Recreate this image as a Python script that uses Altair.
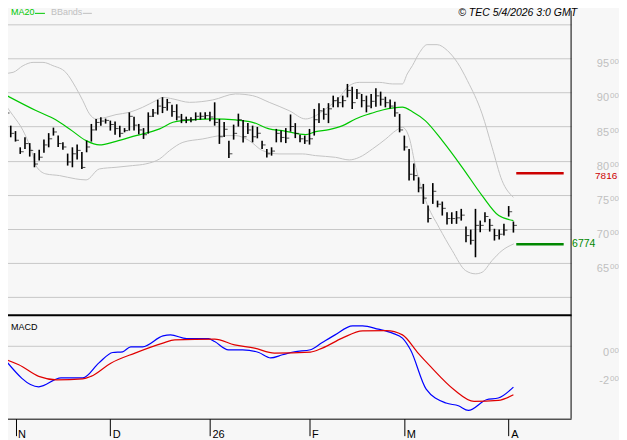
import altair as alt
import pandas as pd

FONT = "Liberation Sans"

# ---------------- daily bars (index 0 = 30 Oct 2025) ----------------
highs = [8782, 8513, 8433, 8195, 8342, 8257, 8110, 8161, 8308, 8403,
         8484, 8367, 8268, 8103, 8195, 8235, 8125, 8293, 8538, 8611,
         8635, 8616, 8587, 8572, 8513, 8477, 8708, 8645, 8538, 8477,
         8708, 8758, 8894, 8931, 8905, 8821, 8826, 8685, 8645, 8635,
         8708, 8708, 8708, 8718, 8855, 8611, 8565, 8293, 8528, 8689,
         8594, 8550, 8513, 8494, 8293, 8172, 8195, 8465, 8440, 8477,
         8677, 8550, 8381, 8367, 8465, 8758, 8843, 8770, 8843, 8953,
         8928, 8953, 9125, 9085, 9051, 8978, 8953, 8978, 9063, 9012,
         8937, 8895, 8865, 8685, 8367, 8172, 7956, 7755, 7658, 7340,
         7670, 7413, 7399, 7242, 7242, 7260, 7292, 7032, 6988, 7292,
         7120, 7242, 7145, 7000, 6991, 7072, 7333, 7106]
lows = [8635, 8342, 8279, 8098, 8172, 8059, 7902, 8000, 8117, 8195,
        8367, 8198, 8161, 7927, 7902, 8015, 7878, 8122, 8279, 8440,
        8513, 8543, 8440, 8381, 8342, 8415, 8440, 8440, 8386, 8318,
        8396, 8641, 8675, 8697, 8733, 8645, 8591, 8550, 8550, 8562,
        8587, 8601, 8611, 8579, 8513, 8245, 8345, 8040, 8308, 8499,
        8264, 8391, 8268, 8327, 8172, 8044, 8073, 8268, 8268, 8257,
        8425, 8330, 8268, 8245, 8235, 8367, 8550, 8601, 8550, 8782,
        8782, 8782, 8928, 8758, 8905, 8782, 8708, 8770, 8792, 8806,
        8782, 8763, 8645, 8415, 8147, 7707, 7707, 7535, 7365, 7091,
        7365, 7315, 7194, 7062, 7072, 7072, 7120, 6802, 6768, 6582,
        6949, 7095, 6959, 6827, 6842, 6900, 7179, 6944]
closes = [8700, 8400, 8300, 8130, 8250, 8150, 7950, 8050, 8230, 8320,
          8420, 8250, 8200, 7980, 8100, 8150, 7900, 8200, 8450, 8560,
          8580, 8590, 8530, 8470, 8400, 8440, 8650, 8520, 8450, 8380,
          8650, 8700, 8800, 8780, 8850, 8720, 8640, 8600, 8600, 8600,
          8650, 8650, 8660, 8640, 8560, 8350, 8460, 8100, 8400, 8600,
          8350, 8450, 8350, 8400, 8230, 8100, 8140, 8400, 8340, 8330,
          8500, 8400, 8320, 8290, 8320, 8600, 8730, 8680, 8760, 8880,
          8850, 8880, 9030, 8850, 8990, 8880, 8800, 8870, 8950, 8900,
          8850, 8800, 8700, 8450, 8200, 7800, 7780, 7600, 7450, 7150,
          7550, 7360, 7300, 7150, 7150, 7160, 7200, 6900, 6830, 7050,
          7050, 7180, 7050, 6900, 6920, 6980, 7250, 7050]
bar_idx = list(range(len(highs)))

# ---------------- MA20 and Bollinger bands ----------------
ma20_idx = [-0.6, 6.3, 9.9, 13.4, 16.9, 19.7, 23.2, 27.4, 32.4, 35.2, 37.3,
            43.6, 48.4, 52.0, 55.5, 58.3, 63.2, 65.3, 68.1, 71.0, 73.7, 76.6,
            79.4, 83.6, 85.7, 88.4, 92.0, 96.2, 100.4, 103.9, 107.0]
ma20_val = [8982, 8735, 8620, 8465, 8293, 8230, 8283, 8367, 8465, 8562, 8587,
            8611, 8597, 8562, 8465, 8440, 8381, 8425, 8455, 8513, 8611, 8685,
            8743, 8785, 8718, 8587, 8293, 7902, 7487, 7194, 7120]

bbu_idx = [-0.6, 1.5, 3.6, 5.7, 7.8, 9.9, 12.6, 14.7, 16.2, 17.6, 19.0, 21.1,
           23.2, 26.0, 28.8, 31.6, 33.1, 35.2, 38.7, 43.6, 48.4, 52.0, 55.5,
           59.7, 63.2, 64.6, 67.4, 70.3, 72.4, 74.5, 78.7, 81.5, 83.6, 84.6,
           85.7, 87.2, 88.8, 90.9, 93.1, 95.2, 97.3, 100.4, 102.5, 104.6, 107.0]
bbu_val = [9276, 9295, 9393, 9441, 9441, 9393, 9295, 9075, 8880, 8685, 8611,
           8635, 8675, 8708, 8782, 8880, 8928, 8905, 8855, 8890, 8978, 8953,
           8855, 8733, 8611, 8635, 8758, 8928, 9100, 9148, 9148, 9125, 9125,
           9271, 9393, 9584, 9701, 9701, 9613, 9437, 9173, 8685, 8195, 7707, 7462]

bbl_idx = [-0.3, 1.5, 3.6, 5.7, 6.3, 8.4, 11.3, 14.7, 16.9, 19.7, 23.2, 26.7,
           29.5, 32.4, 34.5, 37.3, 41.5, 45.7, 48.4, 51.3, 54.1, 57.6, 62.5,
           65.3, 69.5, 72.4, 74.5, 77.3, 80.1, 82.2, 83.6, 85.0, 86.4, 88.5,
           91.3, 94.1, 96.9, 99.0, 100.4, 102.5, 104.6, 107.1]
bbl_val = [8831, 8660, 8440, 8073, 7927, 7805, 7780, 7732, 7717, 7878, 7902,
           7927, 7952, 8025, 8147, 8268, 8318, 8367, 8367, 8293, 8147, 8098,
           8098, 8073, 8048, 8010, 8048, 8172, 8318, 8440, 8488, 8342, 7902,
           7413, 7022, 6680, 6387, 6339, 6362, 6534, 6680, 6779]

# ---------------- MACD ----------------
macd_idx = [-0.2, 6.9, 11.6, 16.2, 19.6, 22.5, 24.6, 26.3, 28.8, 33.1, 34.7,
            38.1, 42.7, 44.0, 46.9, 49.9, 53.3, 55.8, 58.3, 60.8, 64.2, 66.7,
            69.3, 73.1, 75.2, 78.5, 81.5, 83.6, 85.3, 88.6, 92.8, 95.4, 97.5,
            101.3, 103.8, 107.0]
macd_val = [-98, -288, -225, -225, -120, -47, -42, -7, -7, 70, 77, 51, 51, 30,
            -28, -28, -47, -85, -63, -42, -28, 23, 75, 140, 140, 117, 89, 54,
            -28, -304, -402, -421, -454, -379, -367, -290]
sig_idx = [-0.2, 2.7, 6.9, 10.7, 16.2, 17.9, 22.1, 27.2, 33.1, 35.6, 44.0,
           48.2, 52.4, 56.6, 64.2, 66.7, 70.9, 75.2, 80.2, 83.6, 86.9, 89.5,
           94.5, 98.7, 103.8, 107.0]
sig_val = [-94, -133, -215, -239, -232, -215, -122, -51, 19, 42, 47, 7, -16,
           -51, -44, -16, 54, 105, 107, 77, -51, -145, -309, -391, -384, -344]

# ---------------- axes / annotations ----------------
month_tick_idx = [2, 22, 43, 64, 84, 106]
month_labels = ["N", "D", "26", "F", "M", "A"]
grid_prices = [6000, 6500, 7000, 7500, 8000, 8500, 9000, 9500, 10000]
price_ticks = [6500, 7000, 7500, 8000, 8500, 9000, 9500]
macd_ticks = [0, -200]
levels = [7816, 6774]
level_colors = ["#cc0000", "#008800"]
level_x1 = [107.6, 107.6]
level_x2 = [117.6, 117.6]

XMIN, XMAX = -0.632, 119.16
YMIN, YMAX = 5737, 10351
MMIN, MMAX = -512, 217.5
W, H_TOP, H_BOT = 569, 315, 104

xs = alt.Scale(domain=[XMIN, XMAX], nice=False, zero=False)
ys = alt.Scale(domain=[YMIN, YMAX], nice=False, zero=False)
ms = alt.Scale(domain=[MMIN, MMAX], nice=False, zero=False)

TOP_X_AXIS = alt.Axis(orient="bottom", labels=False, ticks=False, grid=False, domain=True,
                      domainColor="#000000", domainWidth=2, title=None)
TOP_Y_AXIS = alt.Axis(orient="right", values=grid_prices, grid=True, gridColor="#c8c8c8",
                      gridWidth=1, labels=False, ticks=False, domain=False, title=None)
expr = " : ".join(f"datum.value == {v} ? '{l}'" for v, l in zip(month_tick_idx, month_labels)) + " : ''"
BOT_X_AXIS = alt.Axis(orient="bottom", values=month_tick_idx, labelExpr=expr, tickSize=17,
                      tickColor="#000000", tickWidth=1, domainColor="#000000", domainWidth=1,
                      labelAlign="left", labelBaseline="top", labelPadding=-7, labelOffset=2,
                      labelFont=FONT, labelFontSize=11, labelColor="#000000", grid=False,
                      title=None, labelOverlap=False, labelFlush=False)
BOT_Y_AXIS = alt.Axis(orient="right", values=[0], grid=True, gridColor="#c8c8c8",
                      gridWidth=1, labels=False, ticks=False, domain=False, title=None)


def tx(field):
    return alt.X(field, type="quantitative", scale=xs, axis=TOP_X_AXIS)


def ty(field):
    return alt.Y(field, type="quantitative", scale=ys, axis=TOP_Y_AXIS)


def bx(field):
    return alt.X(field, type="quantitative", scale=xs, axis=BOT_X_AXIS)


def by(field):
    return alt.Y(field, type="quantitative", scale=ms, axis=BOT_Y_AXIS)


bars = pd.DataFrame({"idx": bar_idx, "high": highs, "low": lows, "close": closes})

# ---------------- price panel ----------------
bbu = alt.Chart(pd.DataFrame({"idx": bbu_idx, "v": bbu_val})).mark_line(
    color="#c4c4c4", strokeWidth=1, interpolate="monotone").encode(x=tx("idx"), y=ty("v"))
bbl = alt.Chart(pd.DataFrame({"idx": bbl_idx, "v": bbl_val})).mark_line(
    color="#c4c4c4", strokeWidth=1, interpolate="monotone").encode(x=tx("idx"), y=ty("v"))
ma = alt.Chart(pd.DataFrame({"idx": ma20_idx, "v": ma20_val})).mark_line(
    color="#00c800", strokeWidth=1.2, interpolate="monotone").encode(x=tx("idx"), y=ty("v"))

bar_rule = alt.Chart(bars).mark_rule(color="#000000", strokeWidth=1.6).encode(
    x=tx("idx"), y=ty("low"), y2="high:Q")
close_tick = alt.Chart(bars).mark_tick(
    orient="horizontal", color="#000000", size=3, thickness=1, xOffset=2
).encode(x=tx("idx"), y=ty("close"))

lv = pd.DataFrame({"x1": level_x1, "x2": level_x2, "v": levels, "c": level_colors})
lv_rule = alt.Chart(lv).mark_rule(strokeWidth=2.5).encode(
    x=tx("x1"), x2="x2:Q", y=ty("v"), color=alt.Color("c:N", scale=None))
res_txt = alt.Chart(pd.DataFrame({"v": [levels[0]], "t": [str(levels[0])]})).mark_text(
    align="left", baseline="middle", font=FONT, fontSize=10, color=level_colors[0], dy=3
).encode(x=alt.value(593), y=ty("v"), text="t:N")
sup_txt = alt.Chart(pd.DataFrame({"v": [levels[1]], "t": [str(levels[1])]})).mark_text(
    align="left", baseline="middle", font=FONT, fontSize=10.5, color=level_colors[1]
).encode(x=alt.value(570), y=ty("v"), text="t:N")

pl = pd.DataFrame({"v": price_ticks,
                   "big": [str(v // 100) for v in price_ticks],
                   "small": ["00"] * len(price_ticks)})
pl_big = alt.Chart(pl).mark_text(align="right", baseline="top", font=FONT, fontSize=11,
                                 color="#c0c0c0").encode(
    x=alt.value(607), y=ty("v"), text="big:N")
pl_small = alt.Chart(pl).mark_text(align="left", baseline="top", font=FONT, fontSize=8,
                                   color="#c0c0c0").encode(
    x=alt.value(608), y=ty("v"), text="small:N")

border_top = alt.Chart(pd.DataFrame({"x": [XMAX], "y1": [10200], "y2": [YMIN]})).mark_rule(
    color="#000000", strokeWidth=1).encode(x=tx("x"), y=ty("y1"), y2="y2:Q")

leg_ma = alt.Chart(pd.DataFrame({"t": ["MA20"]})).mark_text(
    align="left", baseline="top", font=FONT, fontSize=9, color="#00c800"
).encode(x=alt.value(8), y=alt.value(8), text="t:N")
leg_ma_dash = alt.Chart(pd.DataFrame({"t": [0]})).mark_rule(color="#00c800", strokeWidth=1).encode(
    x=alt.value(32), x2=alt.value(42), y=alt.value(13))
leg_bb = alt.Chart(pd.DataFrame({"t": ["BBands"]})).mark_text(
    align="left", baseline="top", font=FONT, fontSize=9, color="#c0c0c0"
).encode(x=alt.value(48), y=alt.value(8), text="t:N")
leg_bb_dash = alt.Chart(pd.DataFrame({"t": [0]})).mark_rule(color="#c0c0c0", strokeWidth=1).encode(
    x=alt.value(80), x2=alt.value(89), y=alt.value(13))
copyright = alt.Chart(pd.DataFrame({"t": ["\u00a9 TEC 5/4/2026 3:0 GMT"]})).mark_text(
    align="right", baseline="top", font=FONT, fontSize=10.5, fontStyle="italic", color="#000000"
).encode(x=alt.value(575), y=alt.value(8), text="t:N")

top = alt.layer(
    bbu, bbl, ma, bar_rule, close_tick, lv_rule, res_txt, sup_txt,
    pl_big, pl_small, border_top, leg_ma, leg_ma_dash, leg_bb, leg_bb_dash, copyright
).properties(width=W, height=H_TOP)

# ---------------- MACD panel ----------------
macd_line = alt.Chart(pd.DataFrame({"idx": macd_idx, "v": macd_val})).mark_line(
    color="#0000ff", strokeWidth=1.2, interpolate="monotone").encode(x=bx("idx"), y=by("v"))
sig_line = alt.Chart(pd.DataFrame({"idx": sig_idx, "v": sig_val})).mark_line(
    color="#e00000", strokeWidth=1.2, interpolate="monotone").encode(x=bx("idx"), y=by("v"))

ml = pd.DataFrame({"v": macd_ticks,
                   "big": [str(int(v / 100)) for v in macd_ticks],
                   "small": ["00"] * len(macd_ticks)})
ml_big = alt.Chart(ml).mark_text(align="right", baseline="top", font=FONT, fontSize=11,
                                 color="#c0c0c0", dy=1).encode(
    x=alt.value(607), y=by("v"), text="big:N")
ml_small = alt.Chart(ml).mark_text(align="left", baseline="top", font=FONT, fontSize=8,
                                   color="#c0c0c0", dy=1).encode(
    x=alt.value(608), y=by("v"), text="small:N")
border_bot = alt.Chart(pd.DataFrame({"x": [XMAX]})).mark_rule(
    color="#000000", strokeWidth=1).encode(x=bx("x"))
macd_lbl = alt.Chart(pd.DataFrame({"t": ["MACD"]})).mark_text(
    align="left", baseline="middle", font=FONT, fontSize=9, color="#000000"
).encode(x=alt.value(8), y=alt.value(12), text="t:N")

bot = alt.layer(
    macd_line, sig_line, ml_big, ml_small, border_bot, macd_lbl
).properties(width=W, height=H_BOT)

chart = alt.vconcat(top, bot, spacing=0, bounds="flush").properties(
    padding={"left": -8, "top": -8, "right": 0, "bottom": 0},
    background="#f7f7f7",
).configure_view(stroke=None)

chart.save("out.html", embed_options={"renderer": "svg", "actions": False})
